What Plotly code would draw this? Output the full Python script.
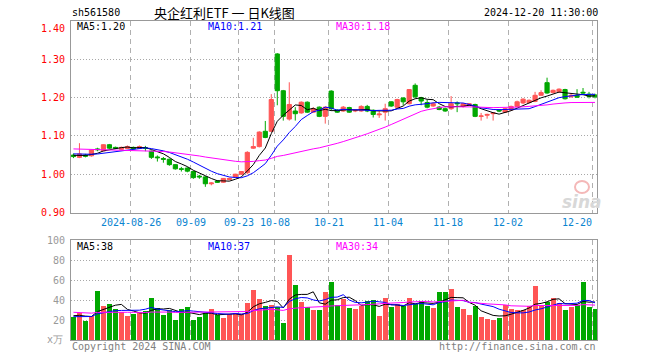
import pandas as pd
import plotly.graph_objects as go

W, H = 660, 360

# ---------------- data ----------------
holidays = ["2024-09-16", "2024-09-17", "2024-10-01", "2024-10-02",
            "2024-10-03", "2024-10-04", "2024-10-07"]
trade_days = [d.strftime("%Y-%m-%d") for d in pd.bdate_range("2024-08-12", "2024-12-20")
              if d.strftime("%Y-%m-%d") not in holidays]

tick_dates = ["2024-08-26", "2024-09-09", "2024-09-23", "2024-10-08", "2024-10-21",
              "2024-11-04", "2024-11-18", "2024-12-02", "2024-12-20"]
tick_text = ["2024-08-26", "09-09", "09-23", "10-08", "10-21",
             "11-04", "11-18", "12-02", "12-20"]

open_ = [1.050, 1.044, 1.050, 1.048, 1.066, 1.061, 1.077, 1.070, 1.065, 1.067,
         1.070, 1.067, 1.069, 1.060, 1.045, 1.041, 1.039, 1.025, 1.014, 1.016,
         1.007, 0.995, 0.993, 0.975, 0.982, 0.979, 0.986, 0.993, 1.000, 1.004,
         1.068, 1.072, 1.112, 1.112, 1.314, 1.218, 1.144, 1.165, 1.160, 1.188,
         1.162, 1.175, 1.151, 1.217, 1.167, 1.165, 1.174, 1.165, 1.165, 1.177,
         1.167, 1.155, 1.162, 1.189, 1.175, 1.199, 1.184, 1.232, 1.200, 1.187,
         1.178, 1.175, 1.171, 1.171, 1.186, 1.177, 1.180, 1.182, 1.151, 1.154,
         1.158, 1.168, 1.162, 1.168, 1.177, 1.186, 1.187, 1.190, 1.206, 1.239,
         1.213, 1.215, 1.221, 1.202, 1.206, 1.214, 1.209, 1.207]
high = [1.054, 1.081, 1.053, 1.064, 1.069, 1.078, 1.079, 1.072, 1.072, 1.075,
        1.072, 1.075, 1.074, 1.062, 1.049, 1.045, 1.041, 1.026, 1.019, 1.018,
        1.009, 0.998, 0.995, 0.979, 0.984, 0.990, 0.991, 1.001, 1.008, 1.060,
        1.095, 1.112, 1.139, 1.209, 1.316, 1.220, 1.240, 1.175, 1.190, 1.190,
        1.175, 1.177, 1.177, 1.219, 1.170, 1.178, 1.176, 1.170, 1.180, 1.181,
        1.169, 1.165, 1.184, 1.190, 1.197, 1.201, 1.222, 1.237, 1.202, 1.195,
        1.188, 1.178, 1.174, 1.204, 1.190, 1.186, 1.186, 1.184, 1.160, 1.158,
        1.162, 1.170, 1.173, 1.179, 1.192, 1.198, 1.195, 1.215, 1.219, 1.252,
        1.221, 1.224, 1.223, 1.211, 1.222, 1.225, 1.215, 1.210]
low = [1.042, 1.042, 1.044, 1.046, 1.060, 1.060, 1.066, 1.066, 1.064, 1.066,
       1.065, 1.066, 1.060, 1.040, 1.033, 1.030, 1.022, 1.012, 1.007, 1.005,
       0.988, 0.988, 0.967, 0.971, 0.977, 0.977, 0.984, 0.991, 0.998, 1.000,
       1.066, 1.070, 1.094, 1.110, 1.180, 1.140, 1.140, 1.140, 1.158, 1.160,
       1.160, 1.149, 1.132, 1.165, 1.160, 1.163, 1.160, 1.162, 1.163, 1.162,
       1.148, 1.147, 1.140, 1.176, 1.173, 1.180, 1.182, 1.198, 1.180, 1.172,
       1.176, 1.167, 1.163, 1.168, 1.162, 1.174, 1.178, 1.149, 1.140, 1.145,
       1.140, 1.162, 1.160, 1.166, 1.175, 1.183, 1.185, 1.188, 1.205, 1.210,
       1.211, 1.213, 1.195, 1.200, 1.199, 1.210, 1.198, 1.198]
close = [1.046, 1.053, 1.047, 1.063, 1.064, 1.077, 1.068, 1.068, 1.070, 1.072,
         1.066, 1.072, 1.068, 1.044, 1.043, 1.039, 1.025, 1.014, 1.013, 1.008,
         0.991, 0.993, 0.975, 0.977, 0.979, 0.989, 0.989, 1.000, 1.007, 1.057,
         1.072, 1.110, 1.096, 1.195, 1.218, 1.151, 1.182, 1.158, 1.188, 1.162,
         1.171, 1.151, 1.175, 1.171, 1.162, 1.175, 1.162, 1.167, 1.177, 1.165,
         1.156, 1.157, 1.171, 1.178, 1.195, 1.189, 1.221, 1.202, 1.191, 1.175,
         1.184, 1.169, 1.165, 1.184, 1.184, 1.184, 1.184, 1.151, 1.152, 1.156,
         1.160, 1.165, 1.171, 1.177, 1.189, 1.196, 1.193, 1.206, 1.213, 1.212,
         1.219, 1.222, 1.197, 1.206, 1.201, 1.212, 1.203, 1.202]
volume = [23, 27, 19, 24, 49, 34, 36, 31, 28, 24,
          26, 27, 29, 42, 32, 25, 30, 20, 31, 33,
          20, 23, 27, 31, 25, 22, 26, 27, 26, 37,
          50, 41, 34, 35, 33, 17, 85, 55, 38, 33,
          30, 30, 48, 58, 35, 41, 32, 31, 34, 39,
          40, 24, 42, 33, 36, 34, 42, 36, 39, 34,
          32, 48, 48, 51, 33, 31, 25, 34, 23, 21,
          20, 22, 35, 31, 30, 30, 34, 54, 35, 38,
          42, 37, 30, 33, 35, 58, 33, 31]

# closes / volumes of the 29 sessions before the visible window (for the moving averages)
prior_close = [1.065, 1.068, 1.072, 1.075, 1.078, 1.080, 1.077, 1.074, 1.076, 1.079,
               1.081, 1.078, 1.074, 1.070, 1.068, 1.066, 1.069, 1.071, 1.067, 1.062,
               1.060, 1.058, 1.055, 1.057, 1.055, 1.052, 1.049, 1.051, 1.048]
prior_volume = [32, 28, 35, 27, 30, 26, 33, 29, 31, 28,
                34, 27, 30, 25, 32, 29, 31, 28, 30, 33,
                24, 21, 23, 22, 21.5, 25, 23, 26, 24.5]

price_ticks = [0.90, 1.00, 1.10, 1.20, 1.30, 1.40]
price_tick_text = ["0.90", "1.00", "1.10", "1.20", "1.30", "1.40"]
vol_ticks = [0, 20, 40, 60, 80, 100]
vol_tick_text = ["x万", "20", "40", "60", "80", "100"]
ma_periods = [5, 10, 30]
ma_colors = ["#000000", "#0000ff", "#ff00ff"]
ma_price_text = ["MA5:1.20", "MA10:1.21", "MA30:1.18"]
ma_vol_text = ["MA5:38", "MA10:37", "MA30:34"]

# ---------------- helpers ----------------
RED = "#ff5555"
GREEN = "#00a800"
MONO = "DejaVu Sans Mono"


def moving_avg(prior, vals, n):
    allv = list(prior) + list(vals)
    k = len(prior)
    return [sum(allv[k + i - n + 1:k + i + 1]) / n for i in range(len(vals))]


def px(x):
    return x / W


def py(y):
    return 1 - y / H


xs = list(range(len(trade_days)))
tick_pos = [trade_days.index(d) - 0.45 for d in tick_dates]

X0, X1 = px(70.7), px(597.3)
XRANGE = [-0.46, 87.38]

fig = go.Figure()

fig.add_trace(go.Candlestick(
    x=xs, open=open_, high=high, low=low, close=close,
    increasing=dict(line=dict(color=RED, width=1), fillcolor=RED),
    decreasing=dict(line=dict(color=GREEN, width=1), fillcolor=GREEN),
    whiskerwidth=0, xaxis="x", yaxis="y", hoverinfo="skip", showlegend=False))

for n, c in zip(ma_periods, ma_colors):
    fig.add_trace(go.Scatter(x=xs, y=moving_avg(prior_close, close, n), mode="lines",
                             line=dict(color=c, width=1), xaxis="x", yaxis="y",
                             hoverinfo="skip", showlegend=False))

vol_colors = [RED if c >= o else GREEN for o, c in zip(open_, close)]
fig.add_trace(go.Bar(x=xs, y=volume, marker=dict(color=vol_colors, line=dict(width=0)),
                     width=0.83, xaxis="x2", yaxis="y2", hoverinfo="skip", showlegend=False))

for n, c in zip(ma_periods, ma_colors):
    fig.add_trace(go.Scatter(x=xs, y=moving_avg(prior_volume, volume, n), mode="lines",
                             line=dict(color=c, width=1), xaxis="x2", yaxis="y2",
                             hoverinfo="skip", showlegend=False))

common_x = dict(range=XRANGE, domain=[X0, X1], tickmode="array", tickvals=tick_pos,
                showticklabels=False, ticks="", showgrid=True, gridcolor="#b0b0b0",
                griddash="5px,4px", gridwidth=1, zeroline=False, showline=True,
                linecolor="#999999", linewidth=1, mirror=True, fixedrange=True)

fig.update_layout(
    width=W, height=H, margin=dict(l=0, r=0, t=0, b=0),
    paper_bgcolor="white", plot_bgcolor="white", showlegend=False,
    boxgap=0.3, boxgroupgap=0.0, bargap=0,
    xaxis=dict(anchor="y", rangeslider=dict(visible=False), **common_x),
    xaxis2=dict(anchor="y2", **common_x),
    yaxis=dict(domain=[py(212.5), py(21)], range=[0.90, 1.40], tickmode="array",
               tickvals=price_ticks, showticklabels=False, ticks="", showgrid=True,
               gridcolor="#a8a8a8", griddash="1px,2px", zeroline=False, showline=True,
               linecolor="#999999", mirror=True, fixedrange=True),
    yaxis2=dict(domain=[py(340), py(240)], range=[0, 100], tickmode="array",
                tickvals=vol_ticks, showticklabels=False, ticks="", showgrid=True,
                gridcolor="#a8a8a8", griddash="1px,2px", zeroline=False, showline=True,
                linecolor="#999999", mirror=True, fixedrange=True),
)

ann = []


def text(x, y, s, color="#000000", size=10, family=MONO, xanchor="left", yref="paper",
         yanchor="middle", **kw):
    ann.append(dict(x=x, y=y, xref="paper", yref=yref, text=s, showarrow=False,
                    xanchor=xanchor, yanchor=yanchor,
                    font=dict(family=family, size=size, color=color, **kw)))


# header
text(px(70), py(12.5), "sh561580")
text(px(225), py(12.5), "央企红利ETF 一 日K线图", family="Noto Sans CJK SC", size=13,
     xanchor="center")
text(px(600), py(12.5), "2024-12-20 11:30:00", xanchor="right")

# MA legends
for xpos, s, c in zip([75, 206, 334], ma_price_text, ma_colors):
    text(px(xpos), py(27), s, color=c)
for xpos, s, c in zip([75, 206, 334], ma_vol_text, ma_colors):
    text(px(xpos), py(246), s, color=c)

# price axis labels (top label hangs just below the frame line)
for v, s in zip(price_ticks, price_tick_text):
    if v == price_ticks[-1]:
        text(px(66.5), v, s, color="#ff0000", xanchor="right", yref="y", yanchor="top")
    else:
        text(px(66.5), v, s, color="#ff0000", xanchor="right", yref="y")
# volume axis labels
for v, s in zip(vol_ticks, vol_tick_text):
    if v == 0:
        text(px(65), py(339), s, color="#999999", xanchor="right")
    else:
        text(px(66.5), v, s, color="#999999", xanchor="right", yref="y2")

# date labels
for i, (p, s) in enumerate(zip(tick_pos, tick_text)):
    xpix = 70.7 + (p - XRANGE[0]) * (597.3 - 70.7) / (XRANGE[1] - XRANGE[0])
    if i == len(tick_pos) - 1:
        text(px(594), py(222), s, color="#0a84d0", xanchor="right")
    else:
        text(px(xpix), py(222), s, color="#0a84d0", xanchor="center")

# footer
text(px(70), py(346.5), "Copyright 2024 SINA.COM", color="#808080")
text(px(597.5), py(346.5), "http://finance.sina.com.cn", color="#808080", xanchor="right")

# sina watermark
text(px(582), py(202), "sina", color="#d8d8d8", size=17, family="DejaVu Sans",
     xanchor="center", weight="bold", style="italic")

fig.update_layout(annotations=ann)
fig.add_shape(type="circle", xref="paper", yref="paper",
              x0=px(575), x1=px(589), y0=py(193), y1=py(181),
              line=dict(color="#f4b8b8", width=2), layer="below")

fig.write_html(
    "out.html",
    config={"displayModeBar": False, "staticPlot": True},
    post_script="document.body.style.margin='0';document.body.style.padding='0';"
                "document.body.style.overflow='hidden';",
)
